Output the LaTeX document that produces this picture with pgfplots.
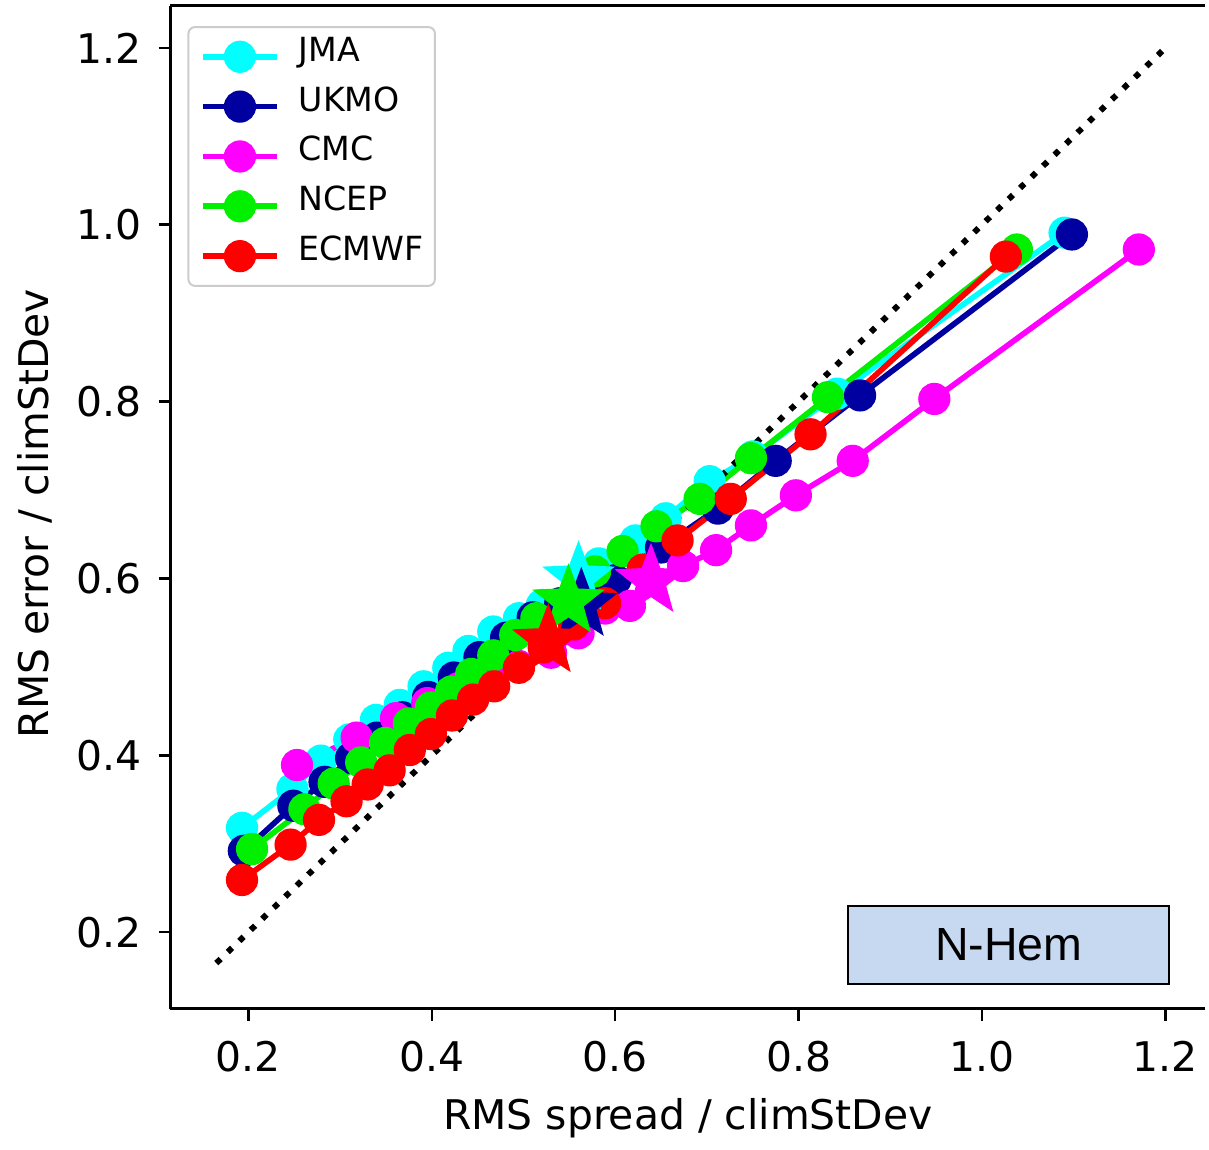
\documentclass[border=0pt]{standalone}
\usepackage{fontspec}
\setmainfont{DejaVu Sans}
\newfontfamily\arialfont{Liberation Sans}
\usepackage{pgfplots}
\pgfplotsset{compat=1.18}
\usetikzlibrary{plotmarks}

\definecolor{jma}{RGB}{0,255,255}
\definecolor{ukmo}{RGB}{0,0,160}
\definecolor{cmc}{RGB}{255,0,255}
\definecolor{ncep}{RGB}{0,240,0}
\definecolor{ecmwf}{RGB}{255,0,0}
\definecolor{boxfill}{RGB}{198,217,241}

\pgfdeclareplotmark{fstar}{%
  \pgfpathmoveto{\pgfpointpolar{90}{\pgfplotmarksize}}%
  \pgfpathlineto{\pgfpointscale{0.42}{\pgfpointpolar{126}{\pgfplotmarksize}}}%
  \pgfpathlineto{\pgfpointpolar{162}{\pgfplotmarksize}}%
  \pgfpathlineto{\pgfpointscale{0.42}{\pgfpointpolar{198}{\pgfplotmarksize}}}%
  \pgfpathlineto{\pgfpointpolar{234}{\pgfplotmarksize}}%
  \pgfpathlineto{\pgfpointscale{0.42}{\pgfpointpolar{270}{\pgfplotmarksize}}}%
  \pgfpathlineto{\pgfpointpolar{306}{\pgfplotmarksize}}%
  \pgfpathlineto{\pgfpointscale{0.42}{\pgfpointpolar{342}{\pgfplotmarksize}}}%
  \pgfpathlineto{\pgfpointpolar{18}{\pgfplotmarksize}}%
  \pgfpathlineto{\pgfpointscale{0.42}{\pgfpointpolar{54}{\pgfplotmarksize}}}%
  \pgfpathclose
  \pgfusepathqfill
}

\pgfplotsset{
  ser/.style={line width=1.7pt, mark=*, mark size=4pt},
  st/.style={only marks, mark=fstar, mark size=11.5pt, forget plot},
}

\begin{document}
\begin{tikzpicture}
\begin{axis}[
  scale only axis,
  width=311.4pt, height=301.8pt,
  xmin=0.115, xmax=1.2435, ymin=0.1132, ymax=1.2474,
  axis x line*=box, axis y line*=left,
  xtick pos=bottom,
  axis line style={line width=0.9pt},
  xtick={0.2,0.4,0.6,0.8,1.0,1.2},
  ytick={0.2,0.4,0.6,0.8,1.0,1.2},
  tick align=outside,
  major tick length=3.6pt,
  tick style={black, line width=0.75pt},
  /pgf/number format/assume math mode=true,
  x tick label style={/pgf/number format/.cd, fixed, fixed zerofill, precision=1, /tikz/.cd, yshift=-2.5pt},
  y tick label style={/pgf/number format/.cd, fixed, fixed zerofill, precision=1, /tikz/.cd, xshift=-1.5pt},
  tick label style={font=\fontsize{12.3}{14}\selectfont},
  label style={font=\fontsize{12.3}{14}\selectfont},
  xlabel={RMS spread / climStDev},
  ylabel={RMS error / climStDev},
  xlabel style={at={(axis description cs:0.5,-0.1094)}, anchor=center},
  ylabel style={at={(axis description cs:-0.131,0.494)}, anchor=center},
  legend image code/.code={\draw[mark repeat=2,mark phase=2,#1] plot coordinates {(0pt,0pt) (11.25pt,0pt) (22.5pt,0pt)};},
  legend cell align=left,
  legend style={at={(0.0164,0.980)}, anchor=north west, draw=black!20, line width=0.6pt,
    rounded corners=2pt, fill=white, font=\fontsize{10}{12}\selectfont,
    inner xsep=3.4pt, inner ysep=3pt, row sep=3.1pt,
    nodes={inner sep=0pt, text height=7.3pt, text depth=4.6pt},
    /tikz/every odd column/.append style={column sep=5.6pt}},
]
% JMA
\addplot[ser, color=jma] coordinates {
(0.193,0.318)(0.248,0.362)(0.279,0.394)(0.310,0.418)(0.339,0.440)(0.365,0.457)
(0.391,0.478)(0.418,0.499)(0.440,0.518)(0.467,0.540)(0.495,0.555)(0.520,0.570)
(0.582,0.617)(0.622,0.643)(0.655,0.668)(0.703,0.710)(0.750,0.738)(0.842,0.809)(1.090,0.991)};
\addlegendentry{JMA}
% UKMO
\addplot[ser, color=ukmo] coordinates {
(0.195,0.292)(0.249,0.343)(0.283,0.370)(0.312,0.397)(0.340,0.420)(0.368,0.443)
(0.396,0.466)(0.424,0.488)(0.452,0.511)(0.481,0.533)(0.510,0.556)(0.540,0.572)
(0.600,0.598)(0.650,0.635)(0.712,0.679)(0.775,0.733)(0.867,0.807)(1.098,0.989)};
\addlegendentry{UKMO}
% CMC
\addplot[ser, color=cmc] coordinates {
(0.253,0.389)(0.318,0.420)(0.361,0.442)(0.395,0.459)(0.429,0.476)(0.462,0.490)
(0.495,0.501)(0.530,0.516)(0.560,0.538)(0.589,0.566)(0.616,0.569)(0.674,0.614)
(0.710,0.632)(0.748,0.660)(0.797,0.694)(0.859,0.733)(0.948,0.803)(1.171,0.972)};
\addlegendentry{CMC}
% NCEP
\addplot[ser, color=ncep] coordinates {
(0.204,0.294)(0.261,0.339)(0.293,0.368)(0.323,0.392)(0.349,0.414)(0.375,0.436)
(0.399,0.454)(0.421,0.472)(0.443,0.492)(0.467,0.513)(0.491,0.536)(0.514,0.555)
(0.578,0.608)(0.608,0.631)(0.645,0.659)(0.692,0.690)(0.748,0.736)(0.832,0.805)(1.038,0.972)};
\addlegendentry{NCEP}
% ECMWF
\addplot[ser, color=ecmwf] coordinates {
(0.193,0.259)(0.246,0.299)(0.277,0.327)(0.307,0.348)(0.330,0.367)(0.354,0.383)
(0.376,0.406)(0.399,0.424)(0.422,0.445)(0.445,0.463)(0.468,0.478)(0.495,0.499)
(0.522,0.522)(0.555,0.548)(0.589,0.572)(0.630,0.610)(0.668,0.643)(0.726,0.690)
(0.813,0.763)(1.026,0.964)};
\addlegendentry{ECMWF}
% stars (drawn on top of the series)
\addplot[st, color=jma] coordinates {(0.560,0.600)};
\addplot[st, color=ukmo] coordinates {(0.563,0.570)};
\addplot[st, color=cmc] coordinates {(0.639,0.597)};
\addplot[st, color=ncep] coordinates {(0.549,0.574)};
\addplot[st, color=ecmwf] coordinates {(0.527,0.529)};
% diagonal
\addplot[black, line width=1.8pt, mark=none, dash pattern=on 1.8pt off 3pt, forget plot] coordinates {(0.165,0.165)(1.198,1.198)};
\node[draw=black, line width=0.6pt, fill=boxfill, minimum width=96.6pt, minimum height=23.4pt,
  inner sep=0pt, font=\arialfont\fontsize{14}{16}\selectfont] at (axis cs:1.0293,0.1854) {N-Hem};
\end{axis}
\path[use as bounding box] ([xshift=-51.3pt,yshift=-38.7pt]current axis.south west) rectangle ([yshift=1.8pt]current axis.north east);
\end{tikzpicture}
\end{document}
